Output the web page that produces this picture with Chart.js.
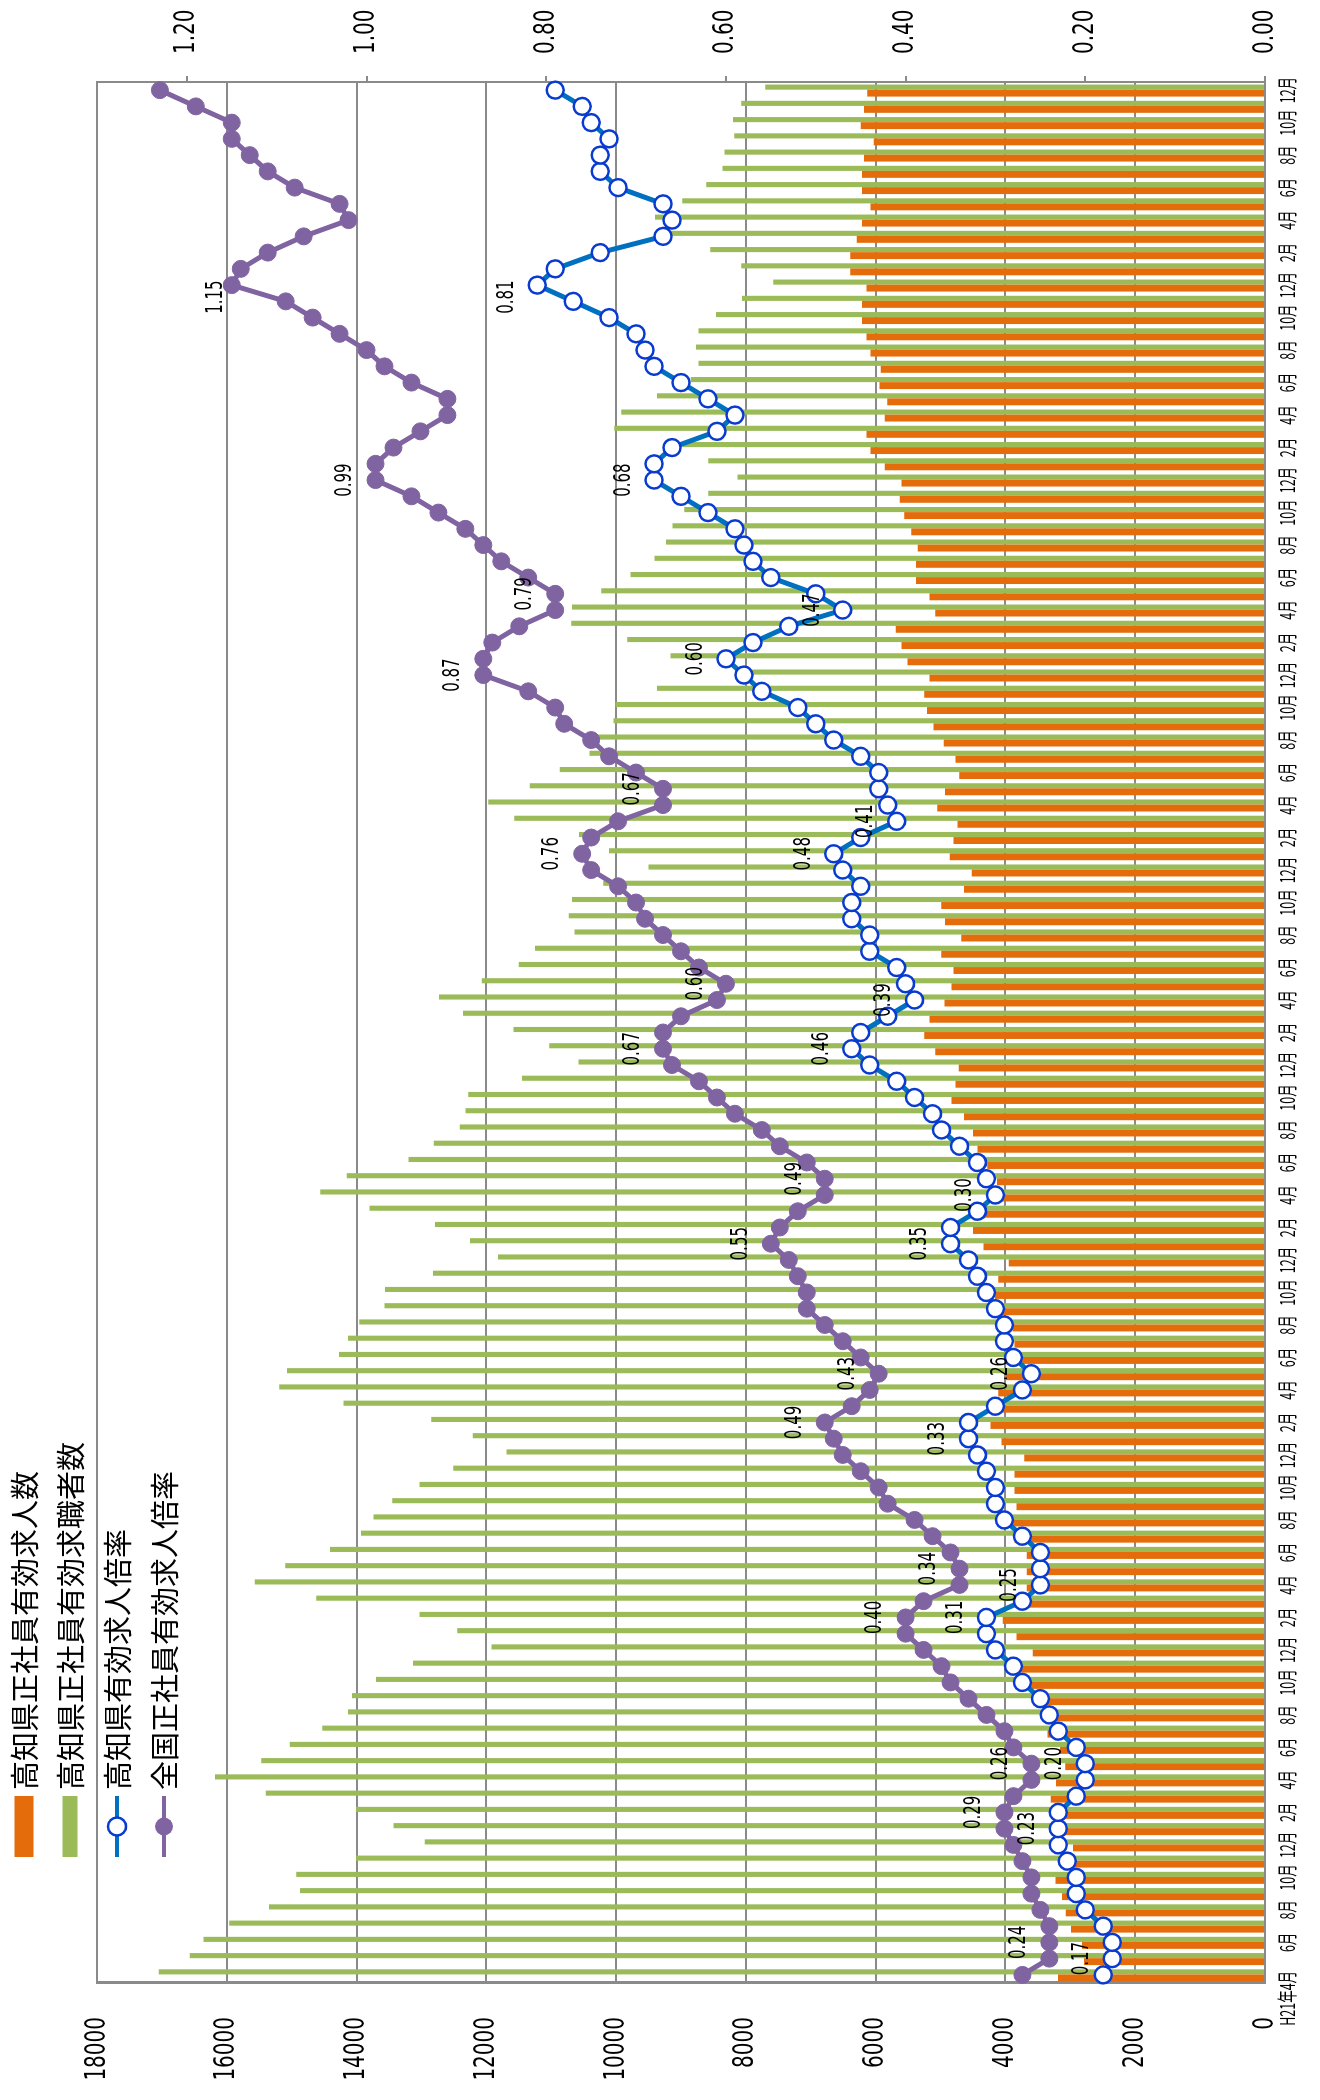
<!DOCTYPE html>
<html lang="ja">
<head>
<meta charset="utf-8">
<title>高知県 正社員有効求人倍率の推移</title>
<script src="https://cdn.jsdelivr.net/npm/chart.js@4.4.1/dist/chart.umd.min.js"></script>
<style>
  html, body { margin: 0; padding: 0; background: #fff; }
  body { width: 1320px; height: 2100px; overflow: hidden; position: relative; }
  /* the chart is laid out landscape and turned a quarter turn to the left */
  #wrap {
    position: absolute; left: 0; top: 0;
    width: 2100px; height: 1320px;
    transform-origin: 0 0;
    transform: translate(0, 2100px) rotate(-90deg);
  }
  canvas { display: block; }
</style>
</head>
<body>
<div id="wrap"><canvas id="chart" width="2100" height="1320"></canvas></div>
<script>
// H21年4月 .. H30年12月
const categories = [
  'H21年4月','5月','6月','7月','8月','9月','10月','11月','12月',
  'H22年1月','2月','3月','4月','5月','6月','7月','8月','9月','10月','11月','12月',
  'H23年1月','2月','3月','4月','5月','6月','7月','8月','9月','10月','11月','12月',
  'H24年1月','2月','3月','4月','5月','6月','7月','8月','9月','10月','11月','12月',
  'H25年1月','2月','3月','4月','5月','6月','7月','8月','9月','10月','11月','12月',
  'H26年1月','2月','3月','4月','5月','6月','7月','8月','9月','10月','11月','12月',
  'H27年1月','2月','3月','4月','5月','6月','7月','8月','9月','10月','11月','12月',
  'H28年1月','2月','3月','4月','5月','6月','7月','8月','9月','10月','11月','12月',
  'H29年1月','2月','3月','4月','5月','6月','7月','8月','9月','10月','11月','12月',
  'H30年1月','2月','3月','4月','5月','6月','7月','8月','9月','10月','11月','12月'
];

// 高知県正社員有効求人数
const kochiOffers = [
  3190, 2790, 2820, 2990, 3070, 3130, 3230, 2940, 2960,
  3110, 3080, 3300, 3220, 3080, 3160, 3350, 3340, 3500, 3770, 3800, 3580,
  3830, 4040, 3860, 3670, 3670, 3670, 3860, 3890, 3830, 3860, 3860, 3710,
  4060, 4230, 4040, 4110, 3990, 3770, 3860, 3890, 4070, 4160, 4110, 3950,
  4340, 4500, 4380, 4070, 4130, 4280, 4430, 4500, 4640, 4830, 4770, 4720,
  5080, 5250, 5170, 4940, 4830, 4800, 4990, 4680, 4930, 4990, 4640, 4520,
  4860, 4800, 4740, 5050, 4930, 4710, 4770, 4950, 5110, 5210, 5250, 5170,
  5510, 5600, 5690, 5080, 5170, 5380, 5380, 5350, 5450, 5560, 5630, 5600,
  5860, 6080, 6140, 5860, 5820, 5940, 5920, 6080, 6140, 6210, 6210, 6140,
  6390, 6390, 6290, 6210, 6080, 6210, 6210, 6180, 6030, 6230, 6180, 6130
];

// 高知県正社員有効求職者数
const kochiSeekers = [
  17050, 16570, 16360, 15960, 15350, 14870, 14930, 14010, 12950,
  13430, 14010, 15400, 16180, 15470, 15030, 14530, 14130, 14070, 13700, 13130, 11920,
  12450, 13030, 14620, 15570, 15100, 14410, 13930, 13740, 13450, 13030, 12510, 11690,
  12210, 12850, 14200, 15190, 15070, 14270, 14130, 13960, 13570, 13560, 12820, 11820,
  12250, 12790, 13800, 14560, 14150, 13200, 12810, 12410, 12320, 12280, 11450, 10580,
  11030, 11580, 12360, 12730, 12070, 11500, 11250, 10640, 10730, 10680, 10200, 9500,
  10110, 10570, 11570, 11970, 11330, 10870, 10410, 10330, 10040, 10010, 9370, 8160,
  9160, 9830, 10690, 10680, 10230, 9780, 9410, 9230, 9130, 8950, 8580, 8130,
  8580, 8980, 10030, 9920, 9370, 8850, 8730, 8770, 8730, 8460, 8060, 7580,
  8070, 8550, 9160, 9400, 8980, 8610, 8360, 8330, 8180, 8200, 8070, 7700
];

// 高知県有効求人倍率
const kochiRatio = [
  0.18, 0.17, 0.17, 0.18, 0.20, 0.21, 0.21, 0.22, 0.23,
  0.23, 0.23, 0.21, 0.20, 0.20, 0.21, 0.23, 0.24, 0.25, 0.27, 0.28, 0.30,
  0.31, 0.31, 0.27, 0.25, 0.25, 0.25, 0.27, 0.29, 0.30, 0.30, 0.31, 0.32,
  0.33, 0.33, 0.30, 0.27, 0.26, 0.28, 0.29, 0.29, 0.30, 0.31, 0.32, 0.33,
  0.35, 0.35, 0.32, 0.30, 0.31, 0.32, 0.34, 0.36, 0.37, 0.39, 0.41, 0.44,
  0.46, 0.45, 0.42, 0.39, 0.40, 0.41, 0.44, 0.44, 0.46, 0.46, 0.45, 0.47,
  0.48, 0.45, 0.41, 0.42, 0.43, 0.43, 0.45, 0.48, 0.50, 0.52, 0.56, 0.58,
  0.60, 0.57, 0.53, 0.47, 0.50, 0.55, 0.57, 0.58, 0.59, 0.62, 0.65, 0.68,
  0.68, 0.66, 0.61, 0.59, 0.62, 0.65, 0.68, 0.69, 0.70, 0.73, 0.77, 0.81,
  0.79, 0.74, 0.67, 0.66, 0.67, 0.72, 0.74, 0.74, 0.73, 0.75, 0.76, 0.79
];

// 全国正社員有効求人倍率
const zenkokuRatio = [
  0.27, 0.24, 0.24, 0.24, 0.25, 0.26, 0.26, 0.27, 0.28,
  0.29, 0.29, 0.28, 0.26, 0.26, 0.28, 0.29, 0.31, 0.33, 0.35, 0.36, 0.38,
  0.40, 0.40, 0.38, 0.34, 0.34, 0.35, 0.37, 0.39, 0.42, 0.43, 0.45, 0.47,
  0.48, 0.49, 0.46, 0.44, 0.43, 0.45, 0.47, 0.49, 0.51, 0.51, 0.52, 0.53,
  0.55, 0.54, 0.52, 0.49, 0.49, 0.51, 0.54, 0.56, 0.59, 0.61, 0.63, 0.66,
  0.67, 0.67, 0.65, 0.61, 0.60, 0.63, 0.65, 0.67, 0.69, 0.70, 0.72, 0.75,
  0.76, 0.75, 0.72, 0.67, 0.67, 0.70, 0.73, 0.75, 0.78, 0.79, 0.82, 0.87,
  0.87, 0.86, 0.83, 0.79, 0.79, 0.82, 0.85, 0.87, 0.89, 0.92, 0.95, 0.99,
  0.99, 0.97, 0.94, 0.91, 0.91, 0.95, 0.98, 1.00, 1.03, 1.06, 1.09, 1.15,
  1.14, 1.11, 1.07, 1.02, 1.03, 1.08, 1.11, 1.13, 1.15, 1.15, 1.19, 1.23
];

// points that carry a value label
const kochiLabelIdx = [1, 9, 13, 22, 24, 33, 37, 45, 48, 57, 60, 69, 71, 81, 84, 92, 104];
const zenkokuLabelIdx = [2, 10, 13, 22, 25, 34, 37, 45, 49, 57, 61, 69, 73, 80, 85, 92, 104];

const leftTicks = [0, 2000, 4000, 6000, 8000, 10000, 12000, 14000, 16000, 18000];
const rightTicks = [0, 0.2, 0.4, 0.6, 0.8, 1.0, 1.2];

const ORANGE = '#E46C0A';
const GREEN = '#9BBB59';
const BLUE = '#0070C0';
const BLUE_EDGE = '#0A3BD0';
const PURPLE = '#8064A2';
const GRID = '#8a8a8a';
const NUM_FONT = '"DejaVu Sans", sans-serif';
const JP_FONT = '"Noto Sans CJK JP", "Noto Sans", sans-serif';

// the source picture has its small texts drawn tall and narrow
function tallText(ctx, text, x, y, sy) {
  ctx.save();
  ctx.translate(x, y);
  ctx.scale(1, sy);
  ctx.fillText(text, 0, 0);
  ctx.restore();
}

// axis and category labels, placed from the chart's own scales
const axisTextPlugin = {
  id: 'axisText',
  afterDraw(chart) {
    const ctx = chart.ctx;
    const area = chart.chartArea;
    const { x, y, y1 } = chart.scales;
    ctx.save();
    ctx.fillStyle = '#000';
    ctx.textBaseline = 'middle';

    ctx.font = '20px ' + NUM_FONT;
    ctx.textAlign = 'right';
    leftTicks.forEach(v => tallText(ctx, String(v), area.left - 34, y.getPixelForValue(v), 1.45));
    ctx.textAlign = 'left';
    rightTicks.forEach(v => tallText(ctx, v.toFixed(2), area.right + 28, y1.getPixelForValue(v), 1.45));

    ctx.font = '12.5px ' + JP_FONT;
    categories.forEach((c, i) => {
      if (i % 2) return;
      const px = x.getPixelForValue(i);
      if (i === 0) {
        ctx.textAlign = 'right';
        tallText(ctx, c, px + 4, area.bottom + 22, 1.6);
      } else {
        ctx.textAlign = 'center';
        tallText(ctx, c, px, area.bottom + 22, 1.6);
      }
    });
    ctx.restore();
  }
};

// legend sits inside the top left corner of the (unrotated) chart
const legendPlugin = {
  id: 'cornerLegend',
  afterDraw(chart) {
    const ctx = chart.ctx;
    const rows = [
      { text: '高知県正社員有効求人数', type: 'box', color: ORANGE, h: 19, y: 24 },
      { text: '高知県正社員有効求職者数', type: 'box', color: GREEN, h: 15, y: 70 },
      { text: '高知県有効求人倍率', type: 'line', color: BLUE, y: 117 },
      { text: '全国正社員有効求人倍率', type: 'line', color: PURPLE, y: 164 }
    ];
    const x0 = 243, x1 = 304;
    ctx.save();
    rows.forEach(r => {
      if (r.type === 'box') {
        ctx.fillStyle = r.color;
        ctx.fillRect(x0, r.y - r.h / 2, x1 - x0, r.h);
      } else {
        ctx.strokeStyle = r.color;
        ctx.lineWidth = 4;
        ctx.beginPath();
        ctx.moveTo(x0, r.y);
        ctx.lineTo(x1, r.y);
        ctx.stroke();
        ctx.beginPath();
        ctx.arc((x0 + x1) / 2, r.y, 9, 0, Math.PI * 2);
        if (r.color === BLUE) {
          ctx.fillStyle = '#fff';
          ctx.fill();
          ctx.lineWidth = 2.5;
          ctx.strokeStyle = BLUE_EDGE;
          ctx.stroke();
        } else {
          ctx.fillStyle = r.color;
          ctx.fill();
        }
      }
      ctx.fillStyle = '#000';
      ctx.font = '29px ' + JP_FONT;
      ctx.textBaseline = 'middle';
      ctx.textAlign = 'left';
      ctx.fillText(r.text, 310, r.y + 1);
    });
    ctx.restore();
  }
};

// value labels above selected points
const pointLabelPlugin = {
  id: 'pointLabels',
  afterDatasetsDraw(chart) {
    const ctx = chart.ctx;
    ctx.save();
    ctx.font = '15px ' + NUM_FONT;
    ctx.fillStyle = '#000';
    ctx.textAlign = 'center';
    ctx.textBaseline = 'middle';
    [[0, zenkokuRatio, zenkokuLabelIdx], [1, kochiRatio, kochiLabelIdx]].forEach(([dsIndex, values, idxs]) => {
      const meta = chart.getDatasetMeta(dsIndex);
      idxs.forEach(i => {
        const p = meta.data[i];
        // the last pair of labels was nudged aside in the source
        const last = i === 104;
        const dx = last ? -12 : 0;
        const dy = last && dsIndex === 0 ? 16 : 30;
        tallText(ctx, values[i].toFixed(2), p.x + dx, p.y - dy, 1.5);
      });
    });
    ctx.restore();
  }
};

const ctx = document.getElementById('chart').getContext('2d');

new Chart(ctx, {
  data: {
    labels: categories,
    datasets: [
      {
        type: 'line',
        label: '全国正社員有効求人倍率',
        data: zenkokuRatio,
        yAxisID: 'y1',
        borderColor: PURPLE,
        backgroundColor: PURPLE,
        borderWidth: 5,
        pointRadius: 8.5,
        pointBackgroundColor: PURPLE,
        pointBorderColor: PURPLE,
        pointBorderWidth: 1,
        tension: 0,
        order: 0
      },
      {
        type: 'line',
        label: '高知県有効求人倍率',
        data: kochiRatio,
        yAxisID: 'y1',
        borderColor: BLUE,
        backgroundColor: '#fff',
        borderWidth: 5,
        pointRadius: 8.5,
        pointBackgroundColor: '#fff',
        pointBorderColor: BLUE_EDGE,
        pointBorderWidth: 2.5,
        tension: 0,
        order: 1
      },
      {
        type: 'bar',
        label: '高知県正社員有効求人数',
        data: kochiOffers,
        yAxisID: 'y',
        backgroundColor: ORANGE,
        categoryPercentage: 0.74,
        barPercentage: 1.15,
        order: 2
      },
      {
        type: 'bar',
        label: '高知県正社員有効求職者数',
        data: kochiSeekers,
        yAxisID: 'y',
        backgroundColor: GREEN,
        categoryPercentage: 0.74,
        barPercentage: 0.85,
        order: 3
      }
    ]
  },
  options: {
    responsive: false,
    animation: false,
    devicePixelRatio: 1,
    layout: { padding: { top: 97, left: 0, right: 0, bottom: 0 } },
    plugins: {
      legend: { display: false },
      tooltip: { enabled: false }
    },
    scales: {
      x: {
        type: 'category',
        grid: { display: false, drawTicks: false },
        border: { display: true, color: GRID, width: 2 },
        ticks: { display: false },
        afterFit: s => { s.height = 55; }
      },
      y: {
        position: 'left',
        min: 0,
        max: 18000,
        afterBuildTicks: s => { s.ticks = leftTicks.map(v => ({ value: v })); },
        grid: { color: GRID, lineWidth: 2, drawTicks: false },
        border: { display: true, color: GRID, width: 3 },
        ticks: { display: false },
        afterFit: s => { s.width = 117; }
      },
      y1: {
        position: 'right',
        min: 0,
        max: 1.3,
        afterBuildTicks: s => { s.ticks = rightTicks.map(v => ({ value: v })); },
        grid: { display: true, drawOnChartArea: false, drawTicks: true, tickLength: 6, color: GRID, lineWidth: 2 },
        border: { display: true, color: GRID, width: 2 },
        ticks: { display: false },
        afterFit: s => { s.width = 82; }
      }
    }
  },
  plugins: [axisTextPlugin, legendPlugin, pointLabelPlugin]
});
</script>
</body>
</html>
